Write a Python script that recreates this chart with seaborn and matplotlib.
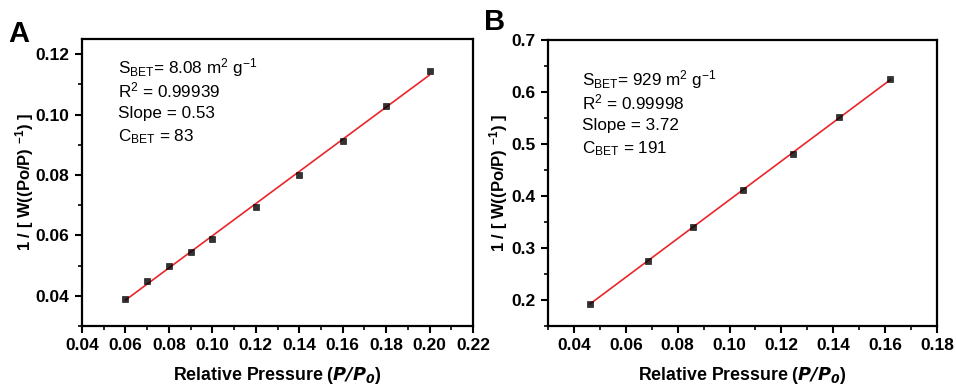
import numpy as np
import pandas as pd
import seaborn as sns
import matplotlib
matplotlib.use("Agg")
import matplotlib.pyplot as plt
from matplotlib.ticker import AutoMinorLocator

# ---- data ----
xa = [0.06, 0.07, 0.08, 0.09, 0.10, 0.12, 0.14, 0.16, 0.18, 0.20]
ya = [0.0389, 0.0450, 0.0500, 0.0546, 0.0587, 0.0693, 0.0800, 0.0912, 0.1029, 0.1144]
xb = [0.0462, 0.0684, 0.0858, 0.1053, 0.1243, 0.1423, 0.1620]
yb = [0.193, 0.275, 0.340, 0.412, 0.481, 0.551, 0.6245]
xticks_a = [0.04, 0.06, 0.08, 0.10, 0.12, 0.14, 0.16, 0.18, 0.20, 0.22]
yticks_a = [0.04, 0.06, 0.08, 0.10, 0.12]
xticks_b = [0.04, 0.06, 0.08, 0.10, 0.12, 0.14, 0.16, 0.18]
yticks_b = [0.2, 0.3, 0.4, 0.5, 0.6, 0.7]
text_a = ["S$_{\\mathregular{BET}}$= 8.08 m$^{\\mathregular{2}}$ g$^{\\mathregular{-1}}$",
          "R$^{\\mathregular{2}}$ = 0.99939", "Slope = 0.53", "C$_{\\mathregular{BET}}$ = 83"]
text_b = ["S$_{\\mathregular{BET}}$= 929 m$^{\\mathregular{2}}$ g$^{\\mathregular{-1}}$",
          "R$^{\\mathregular{2}}$ = 0.99998", "Slope = 3.72", "C$_{\\mathregular{BET}}$ = 191"]

sns.set_style("ticks")
plt.rcParams['font.family'] = ['Liberation Sans', 'DejaVu Sans']
plt.rcParams['mathtext.fontset'] = 'custom'
plt.rcParams['mathtext.rm'] = 'Liberation Sans'
plt.rcParams['mathtext.it'] = 'Liberation Sans:italic'
plt.rcParams['mathtext.bf'] = 'Liberation Sans:bold'
for k in ['text.color', 'axes.labelcolor', 'xtick.color', 'ytick.color', 'axes.edgecolor']:
    plt.rcParams[k] = 'black'

fig = plt.figure(figsize=(9.56, 3.88), dpi=100)
W, H = 956, 388
axA = fig.add_axes([82 / W, 1 - 326 / H, 391 / W, 287 / H])
axB = fig.add_axes([548 / W, 1 - 326 / H, 389 / W, 286 / H])

ylab = "1 / [ W((Po/P) $^{\\mathbf{-1}}$) ]"
xlab = "Relative Pressure ($\\mathbfit{P/P}_{\\mathbfit{0}}$)"

def style(ax, x, y, xlim, ylim, xt, yt, xfmt, yfmt, texts, tx, ty, ypad):
    df = pd.DataFrame({"x": x, "y": y})
    sns.regplot(data=df, x="x", y="y", ax=ax, ci=None, truncate=True,
                marker="s", color="black",
                scatter_kws=dict(s=24, color="black", edgecolors="black", linewidths=0.5, zorder=3),
                line_kws=dict(color="#e8262a", lw=1.2, zorder=2))
    ax.set_xlim(*xlim)
    ax.set_ylim(*ylim)
    ax.set_xticks(xt)
    ax.set_xticklabels([xfmt.format(v) for v in xt], fontweight="bold", fontsize=12.5)
    ax.set_yticks(yt)
    ax.set_yticklabels([yfmt.format(v) for v in yt], fontweight="bold", fontsize=12.5)
    ax.xaxis.set_minor_locator(AutoMinorLocator(2))
    ax.yaxis.set_minor_locator(AutoMinorLocator(2))
    ax.tick_params(which="major", direction="out", length=5, width=1.5, pad=4)
    ax.tick_params(which="minor", direction="out", length=3, width=1.2)
    for s in ax.spines.values():
        s.set_visible(True)
        s.set_linewidth(1.6)
        s.set_color("black")
    ax.set_xlabel(xlab, fontsize=12.8, fontweight="bold", labelpad=8)
    ax.set_ylabel(ylab, fontsize=12, fontweight="bold", labelpad=ypad)
    for i, t in enumerate(texts):
        ax.text(tx, ty - i * 0.08, t, transform=ax.transAxes, fontsize=12.3,
                va="center", ha="left")

style(axA, xa, ya, (0.04, 0.22), (0.03, 0.125), xticks_a, yticks_a, "{:.2f}", "{:.2f}",
      text_a, 0.092, 0.90, 0)
style(axB, xb, yb, (0.03, 0.18), (0.15, 0.7), xticks_b, yticks_b, "{:.2f}", "{:.1f}",
      text_b, 0.087, 0.86, 1)

fig.text(8 / W, 1 - 42 / H, "A", fontsize=21, fontweight="bold", ha="left", va="baseline")
fig.text(484 / W, 1 - 30 / H, "B", fontsize=21, fontweight="bold", ha="left", va="baseline")

fig.savefig("out.png", dpi=100)
